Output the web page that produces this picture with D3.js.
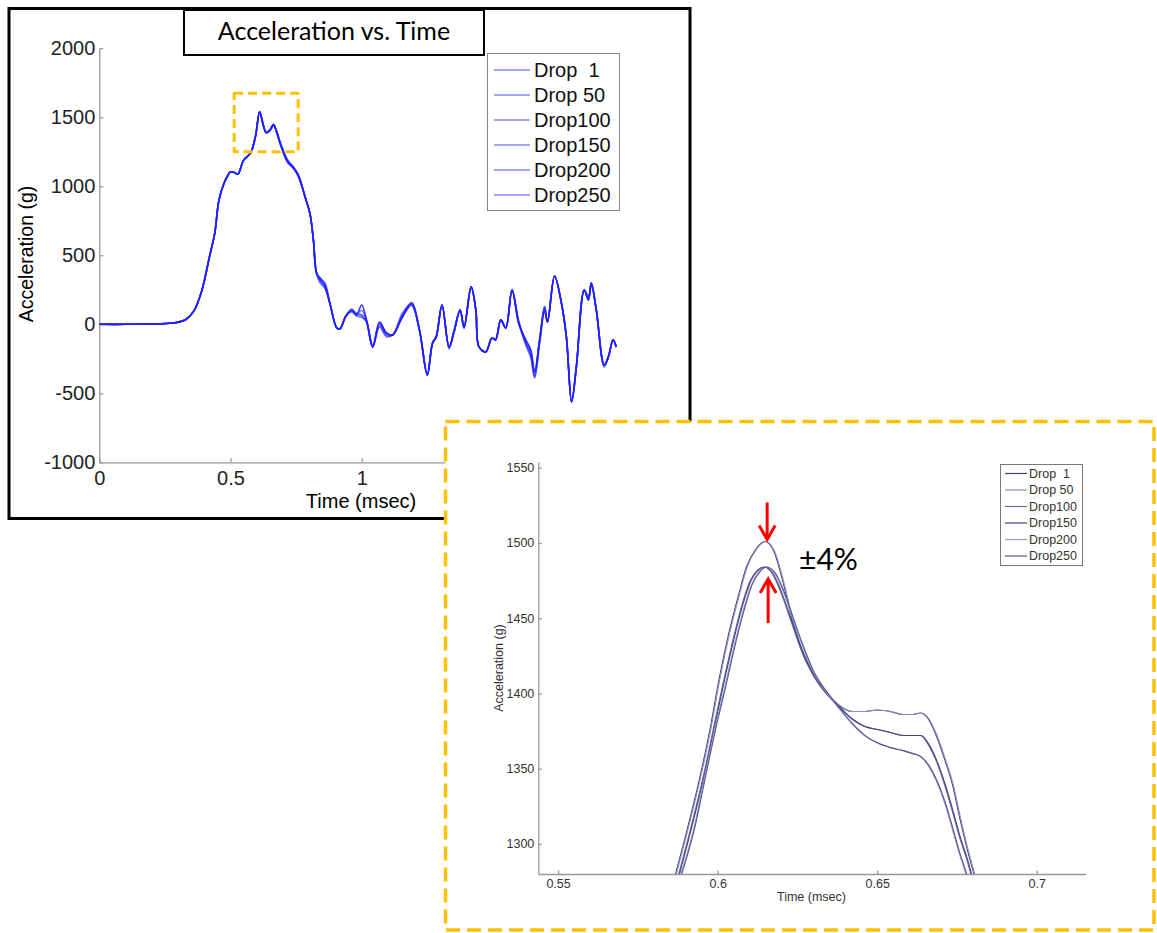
<!DOCTYPE html>
<html>
<head>
<meta charset="utf-8">
<script src="https://cdn.jsdelivr.net/npm/d3@7"></script>
<style>
    body { margin: 0; background: #fff; }
    text { white-space: pre; }
</style>
</head>
<body>
<script>
let tiempo = [0, 0.1, 0.2, 0.25, 0.3, 0.33, 0.36, 0.39, 0.42, 0.44,
    0.456, 0.475, 0.49, 0.5, 0.515, 0.528, 0.55, 0.576, 0.595, 0.611,
    0.625, 0.636, 0.65, 0.664, 0.676, 0.689, 0.717, 0.74, 0.759, 0.784,
    0.803, 0.816, 0.828, 0.841, 0.86, 0.879, 0.905, 0.917, 0.94, 0.962,
    0.98, 1.0, 1.018, 1.042, 1.068, 1.094, 1.118, 1.155, 1.19, 1.22,
    1.25, 1.27, 1.284, 1.306, 1.333, 1.352, 1.375, 1.39, 1.417, 1.435,
    1.447, 1.473, 1.496, 1.51, 1.53, 1.549, 1.573, 1.598, 1.625, 1.644,
    1.659, 1.678, 1.697, 1.708, 1.735, 1.761, 1.78, 1.8, 1.818, 1.848,
    1.864, 1.875, 1.894, 1.924, 1.94, 1.958, 1.97];

// aceleracion (g) de cada caida
let drop1 = [0, 0, 3, 5, 15, 35, 95, 240, 490, 660,
    900, 1020, 1080, 1105, 1100, 1088, 1190, 1240, 1360, 1540,
    1440, 1392, 1410, 1450, 1390, 1310, 1178, 1130, 1070, 925,
    800, 610, 370, 320, 270, 150, -26, -33, 60, 104,
    68, 140, 32, -164, 17, -62, -77, 53, 140, -40,
    -367, -135, -91, 140, -164, -55, 104, -26, 271, 104,
    -164, -200, -99, -113, 32, -26, 249, 10, -113, -186,
    -345, -113, 126, 17, 350, 155, -91, -562, -309, 249,
    177, 300, 104, -294, -236, -113, -164];
let drop50 = [0, 0, 3, 5, 15, 35, 95, 240, 490, 660,
    900, 1020, 1080, 1105, 1100, 1088, 1190, 1240, 1360, 1540,
    1445, 1385, 1405, 1440, 1395, 1315, 1190, 1135, 1080, 925,
    800, 610, 370, 340, 290, 150, -26, -33, 60, 104,
    80, 60, 20, -164, -10, -80, -77, 80, 150, -40,
    -367, -135, -91, 140, -164, -55, 104, -26, 271, 104,
    -164, -200, -99, -113, 32, -26, 249, 10, -140, -210,
    -370, -113, 100, 17, 350, 155, -91, -562, -309, 249,
    200, 300, 104, -294, -236, -113, -164];
let drop100 = [0, 0, 3, 5, 15, 35, 95, 240, 490, 660,
    900, 1020, 1080, 1105, 1100, 1088, 1190, 1240, 1360, 1540,
    1440, 1390, 1410, 1445, 1400, 1320, 1180, 1140, 1075, 925,
    800, 610, 370, 330, 300, 150, -26, -33, 60, 90,
    60, 50, 20, -164, -20, -90, -77, 53, 160, -40,
    -367, -135, -91, 140, -180, -40, 104, -10, 271, 104,
    -164, -200, -99, -113, 32, -26, 249, 30, -150, -240,
    -390, -140, 90, 17, 350, 155, -91, -562, -309, 249,
    177, 280, 104, -310, -236, -113, -164];
let drop150 = [0, 0, 3, 5, 15, 35, 95, 240, 490, 660,
    900, 1020, 1080, 1105, 1100, 1088, 1190, 1240, 1360, 1540,
    1440, 1392, 1410, 1450, 1390, 1310, 1178, 1130, 1070, 925,
    800, 610, 370, 300, 260, 150, -26, -33, 60, 110,
    75, 100, 32, -150, 10, -62, -77, 53, 140, -40,
    -367, -135, -91, 140, -164, -55, 104, -26, 271, 104,
    -164, -200, -99, -113, 32, -26, 249, 10, -113, -186,
    -345, -113, 126, 17, 350, 155, -91, -562, -309, 249,
    177, 300, 104, -294, -236, -113, -164];
let drop200 = [0, 0, 3, 5, 15, 35, 95, 240, 490, 660,
    900, 1020, 1080, 1105, 1100, 1088, 1190, 1240, 1360, 1540,
    1440, 1392, 1410, 1450, 1390, 1310, 1178, 1130, 1070, 925,
    800, 610, 370, 320, 270, 150, -26, -33, 60, 104,
    68, 140, 32, -164, 17, -62, -77, 53, 140, -40,
    -367, -135, -91, 140, -164, -55, 104, -26, 271, 104,
    -164, -200, -99, -113, 32, -26, 249, 10, -113, -186,
    -345, -113, 126, 17, 350, 155, -91, -562, -309, 249,
    177, 300, 104, -294, -236, -113, -164];
let drop250 = [0, 0, 3, 5, 15, 35, 95, 240, 490, 660,
    900, 1020, 1080, 1105, 1100, 1088, 1190, 1240, 1360, 1540,
    1450, 1388, 1400, 1440, 1400, 1325, 1195, 1140, 1085, 925,
    800, 610, 370, 335, 280, 150, -26, -33, 60, 95,
    70, 70, 25, -164, 0, -70, -77, 70, 150, -40,
    -367, -135, -91, 140, -170, -50, 104, -20, 271, 104,
    -164, -200, -99, -113, 32, -26, 249, 20, -130, -220,
    -380, -130, 110, 17, 350, 155, -91, -562, -309, 249,
    190, 290, 104, -300, -236, -113, -164];

let nombres = ["Drop  1", "Drop 50", "Drop100", "Drop150", "Drop200", "Drop250"];
let ticksX = [0, 0.5, 1, 1.5, 2];
let ticksY = [-1000, -500, 0, 500, 1000, 1500, 2000];

// datos del acercamiento (pico), tres curvas visibles
let zoomTiempoA = [0.5868, 0.5905, 0.5945, 0.5975, 0.6005, 0.6035, 0.6065, 0.609, 0.612, 0.6148,
    0.6175, 0.62, 0.623, 0.626, 0.63, 0.634, 0.638, 0.642, 0.646, 0.65,
    0.654, 0.658, 0.661, 0.6635, 0.666, 0.6685, 0.671, 0.6735, 0.676, 0.6785, 0.6803];
let zoomA = [1280, 1310, 1345, 1375, 1410, 1440, 1465, 1484, 1496, 1501,
    1495, 1478, 1452, 1430, 1412, 1400, 1392, 1388, 1388, 1389,
    1388, 1386, 1386, 1387, 1383, 1372, 1357, 1340, 1316, 1294, 1280];
let zoomTiempoB = [0.5878, 0.5915, 0.5955, 0.5985, 0.6015, 0.6045, 0.6075, 0.61, 0.6125, 0.6145,
    0.617, 0.62, 0.623, 0.626, 0.63, 0.634, 0.638, 0.642, 0.646, 0.65,
    0.654, 0.658, 0.661, 0.6635, 0.666, 0.6685, 0.671, 0.6735, 0.676, 0.678, 0.6793];
let zoomB = [1280, 1310, 1345, 1375, 1405, 1433, 1458, 1474, 1482, 1484,
    1480, 1466, 1448, 1430, 1412, 1400, 1391, 1383, 1378, 1376,
    1374, 1372, 1372, 1372, 1366, 1355, 1340, 1322, 1303, 1290, 1280];
let zoomTiempoC = [0.5885, 0.5925, 0.596, 0.599, 0.602, 0.605, 0.608, 0.6105, 0.613, 0.615,
    0.6175, 0.6205, 0.6235, 0.6265, 0.63, 0.634, 0.638, 0.642, 0.646, 0.65,
    0.654, 0.658, 0.661, 0.6635, 0.666, 0.6685, 0.671, 0.6735, 0.6755, 0.6778];
let zoomC = [1280, 1310, 1345, 1375, 1402, 1430, 1455, 1472, 1481, 1484,
    1481, 1468, 1450, 1432, 1414, 1401, 1390, 1380, 1372, 1367,
    1364, 1362, 1360, 1358, 1352, 1342, 1328, 1310, 1295, 1280];
let ticksZoomX = [0.55, 0.6, 0.65, 0.7];
let ticksZoomY = [1300, 1350, 1400, 1450, 1500, 1550];

let naranja = "#FFC000";
let fuente = "'Liberation Sans', Arial, sans-serif";

let svg = d3.select("body")
    .append("svg")
    .attr("width", 1157)
    .attr("height", 933);

// ---------- grafica principal ----------
svg.append("rect")
    .attr("x", 9).attr("y", 8.5)
    .attr("width", 681).attr("height", 510)
    .attr("fill", "none")
    .attr("stroke", "#000")
    .attr("stroke-width", 3);

let x = d3.scaleLinear().domain([0, 2]).range([99.3, 624.1]);
let y = d3.scaleLinear().domain([-1000, 2000]).range([462.3, 48.3]);

function estiloEje(g, tam) {
    g.selectAll("path").attr("stroke", "#999").attr("stroke-width", 1.3);
    g.selectAll("line").attr("stroke", "#999").attr("stroke-width", 1.3);
    g.selectAll("text").attr("fill", "#222").style("font-family", fuente).style("font-size", tam + "px");
}

svg.append("g")
    .attr("transform", "translate(" + x(0) + ",0)")
    .call(d3.axisLeft(y).tickValues(ticksY).tickFormat(d => d).tickSizeInner(-4).tickSizeOuter(0).tickPadding(4))
    .call(g => estiloEje(g, 20));

svg.append("g")
    .attr("transform", "translate(0," + y(-1000) + ")")
    .call(d3.axisBottom(x).tickValues(ticksX).tickFormat(d => d).tickSizeInner(-4).tickSizeOuter(0).tickPadding(9))
    .call(g => estiloEje(g, 20));

svg.append("text")
    .attr("x", 361).attr("y", 508)
    .attr("text-anchor", "middle")
    .style("font-family", fuente).style("font-size", "20px")
    .text("Time (msec)");

svg.append("text")
    .attr("transform", "translate(33,254) rotate(-90)")
    .attr("text-anchor", "middle")
    .style("font-family", fuente).style("font-size", "19.5px")
    .text("Acceleration (g)");

let series = [drop1, drop50, drop100, drop150, drop200, drop250];

let linea = d3.line()
    .x((d, i) => x(tiempo[i]))
    .y(d => y(d))
    .curve(d3.curveCatmullRom.alpha(0.5));

svg.append("g")
    .selectAll("path")
    .data(series)
    .enter()
    .append("path")
    .attr("d", linea)
    .attr("fill", "none")
    .attr("stroke", "#2020ff")
    .attr("stroke-opacity", 0.6)
    .attr("stroke-width", 1.6);

// leyenda principal
let leyenda = svg.append("g");
leyenda.append("rect")
    .attr("x", 487.5).attr("y", 53.5)
    .attr("width", 132).attr("height", 157)
    .attr("fill", "#fff")
    .attr("stroke", "#888");
leyenda.selectAll("line")
    .data(nombres)
    .enter()
    .append("line")
    .attr("x1", 494).attr("x2", 530)
    .attr("y1", (d, i) => 70 + i * 25)
    .attr("y2", (d, i) => 70 + i * 25)
    .attr("stroke", "#a4a4ff")
    .attr("stroke-width", 2);
leyenda.selectAll("text")
    .data(nombres)
    .enter()
    .append("text")
    .attr("x", 534)
    .attr("y", (d, i) => 70 + i * 25)
    .attr("dy", "0.35em")
    .style("font-family", fuente).style("font-size", "20px")
    .attr("fill", "#111")
    .text(d => d);

// titulo
svg.append("rect")
    .attr("x", 184).attr("y", 10)
    .attr("width", 300).attr("height", 45)
    .attr("fill", "#fff")
    .attr("stroke", "#000")
    .attr("stroke-width", 2);
svg.append("text")
    .attr("x", 334).attr("y", 40)
    .attr("text-anchor", "middle")
    .style("font-family", "Lato, 'Open Sans', sans-serif").style("font-size", "25px")
    .text("Acceleration vs. Time");

// recuadro naranja del pico
svg.append("rect")
    .attr("x", x(0.514)).attr("y", y(1674))
    .attr("width", x(0.758) - x(0.514))
    .attr("height", y(1251) - y(1674))
    .attr("fill", "none")
    .attr("stroke", naranja)
    .attr("stroke-width", 3)
    .attr("stroke-dasharray", "9,5")
    .attr("stroke-linejoin", "round");

// ---------- acercamiento ----------
svg.append("rect")
    .attr("x", 445.5).attr("y", 421.5)
    .attr("width", 708.5).attr("height", 508.5)
    .attr("fill", "#fff")
    .attr("stroke", naranja)
    .attr("stroke-width", 3.5)
    .attr("stroke-dasharray", "14,7");

let zx = d3.scaleLinear().domain([0.5438, 0.7153]).range([538.3, 1085.6]);
let zy = d3.scaleLinear().domain([1280, 1554]).range([874, 461.7]);

svg.append("g")
    .attr("transform", "translate(" + zx.range()[0] + ",0)")
    .call(d3.axisLeft(zy).tickValues(ticksZoomY).tickFormat(d => d).tickSizeInner(-3.5).tickSizeOuter(0).tickPadding(4))
    .call(g => estiloEje(g, 12.5))
    .call(g => g.selectAll("text").attr("fill", "#333"));

svg.append("g")
    .attr("transform", "translate(0," + zy.range()[0] + ")")
    .call(d3.axisBottom(zx).tickValues(ticksZoomX).tickFormat(d => d).tickSizeInner(-3.5).tickSizeOuter(0).tickPadding(5))
    .call(g => estiloEje(g, 12.5))
    .call(g => g.selectAll("text").attr("fill", "#333"));

svg.append("text")
    .attr("x", 811.5).attr("y", 901)
    .attr("text-anchor", "middle")
    .attr("fill", "#333")
    .style("font-family", fuente).style("font-size", "12.5px")
    .text("Time (msec)");

svg.append("text")
    .attr("transform", "translate(503,668) rotate(-90)")
    .attr("text-anchor", "middle")
    .attr("fill", "#333")
    .style("font-family", fuente).style("font-size", "12.5px")
    .text("Acceleration (g)");

svg.append("clipPath")
    .attr("id", "corte")
    .append("rect")
    .attr("x", zx.range()[0]).attr("y", zy.range()[1])
    .attr("width", zx.range()[1] - zx.range()[0])
    .attr("height", zy.range()[0] - zy.range()[1]);

let zoomSeries = [
    { t: zoomTiempoA, v: zoomA, color: "#3f3f7c" },
    { t: zoomTiempoA, v: zoomA, color: "#8c8cbe" },
    { t: zoomTiempoB, v: zoomB, color: "#6a6aa2" },
    { t: zoomTiempoB, v: zoomB, color: "#44447f" },
    { t: zoomTiempoC, v: zoomC, color: "#9a9ac6" },
    { t: zoomTiempoC, v: zoomC, color: "#555590" }
];

svg.append("g")
    .attr("clip-path", "url(#corte)")
    .selectAll("path")
    .data(zoomSeries)
    .enter()
    .append("path")
    .attr("d", s => d3.line()
        .x((d, i) => zx(s.t[i]))
        .y(d => zy(d))
        .curve(d3.curveMonotoneX)(s.v))
    .attr("fill", "none")
    .attr("stroke", s => s.color)
    .attr("stroke-width", 1.1)
    .attr("transform", (s, i) => "translate(" + (i % 2) * 0.8 + ",0)");

// leyenda del acercamiento
let leyenda2 = svg.append("g");
leyenda2.append("rect")
    .attr("x", 1000.5).attr("y", 464.5)
    .attr("width", 82).attr("height", 101)
    .attr("fill", "#fff")
    .attr("stroke", "#777");
leyenda2.selectAll("line")
    .data(zoomSeries)
    .enter()
    .append("line")
    .attr("x1", 1005).attr("x2", 1027)
    .attr("y1", (d, i) => 473.5 + i * 16.5)
    .attr("y2", (d, i) => 473.5 + i * 16.5)
    .attr("stroke", d => d.color)
    .attr("stroke-width", 1.2);
leyenda2.selectAll("text")
    .data(nombres)
    .enter()
    .append("text")
    .attr("x", 1029)
    .attr("y", (d, i) => 473.5 + i * 16.5)
    .attr("dy", "0.35em")
    .attr("fill", "#333")
    .style("font-family", fuente).style("font-size", "12.5px")
    .text(d => d);

// flechas rojas en los picos
let picoX = zx(0.6152);
let flechas = svg.append("g")
    .attr("stroke", "#ff0000")
    .attr("stroke-width", 3)
    .attr("fill", "none");
let arriba = zy(d3.max(zoomA)) - 2;
flechas.append("line")
    .attr("x1", picoX + 1).attr("x2", picoX + 1)
    .attr("y1", arriba - 37).attr("y2", arriba);
flechas.append("polyline")
    .attr("points", [[picoX - 7, arriba - 14], [picoX + 1, arriba], [picoX + 9, arriba - 14]].join(" "));
let abajo = zy(d3.max(zoomB)) + 12;
flechas.append("line")
    .attr("x1", picoX + 2).attr("x2", picoX + 2)
    .attr("y1", abajo + 44).attr("y2", abajo);
flechas.append("polyline")
    .attr("points", [[picoX - 6, abajo + 14], [picoX + 2, abajo], [picoX + 10, abajo + 14]].join(" "));

svg.append("text")
    .attr("x", 799).attr("y", 570)
    .style("font-family", "Lato, 'Open Sans', sans-serif").style("font-size", "30px")
    .text("±4%");
</script>
</body>
</html>
